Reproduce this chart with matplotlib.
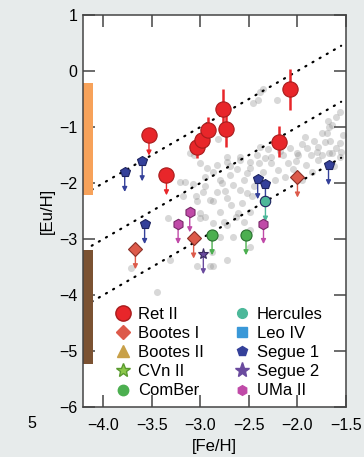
import numpy as np
import matplotlib.pyplot as plt
from matplotlib.lines import Line2D

plt.rcParams['font.family'] = ['Liberation Sans', 'DejaVu Sans']

# halo field stars
halo_feh = [-2.41, -2.36, -2.21, -1.60, -1.67, -3.07, -2.59, -2.39, -2.08, -1.90,
            -1.80, -1.64, -1.56, -1.70, -1.56, -1.64, -1.69, -1.75, -1.72, -1.92,
            -1.79, -1.55, -2.00, -2.73, -2.49, -2.42, -2.87, -2.69, -2.52, -3.16,
            -2.78, -2.66, -2.59, -2.52, -2.47, -2.90, -2.73, -2.57, -3.05, -3.11,
            -2.80, -2.61, -2.49, -2.76, -2.87, -3.00, -3.18, -2.27, -2.10, -1.99,
            -1.91, -1.86, -1.79, -1.68, -1.56, -2.20, -2.13, -2.23, -3.21, -2.97,
            -3.04, -3.33, -3.00, -2.73, -2.88, -2.73, -2.87, -3.04, -2.49, -2.49,
            -3.72, -2.66, -2.80, -3.45, -2.93, -3.00, -3.31, -2.83, -2.80, -2.87,
            -2.63, -2.90, -3.11, -2.82, -2.73, -2.59, -2.49, -2.83, -2.39, -2.46,
            -2.35, -2.27, -2.30, -2.15, -2.05, -1.85, -1.95, -1.53, -1.62,
            -2.95, -2.70, -2.62, -2.55, -2.45, -2.40, -2.33, -2.18, -2.02, -1.95,
            -1.83, -1.75, -1.66, -1.60, -2.68, -2.95, -3.08, -2.75, -2.55, -2.95]
halo_euh = [-0.52, -0.32, -0.52, -0.82, -1.00, -1.50, -1.53, -1.36, -1.38, -1.38,
            -1.45, -1.47, -1.29, -1.11, -0.73, -0.96, -0.90, -1.11, -1.26, -1.17,
            -1.35, -1.44, -1.47, -1.62, -1.62, -1.50, -1.80, -1.86, -1.83, -1.98,
            -2.00, -2.04, -2.13, -2.18, -2.24, -2.30, -2.27, -2.36, -2.24, -2.48,
            -2.51, -2.54, -2.51, -2.69, -2.72, -1.65, -2.24, -1.65, -1.65, -1.50,
            -1.68, -1.50, -1.59, -1.47, -1.53, -1.77, -1.89, -1.95, -1.98, -2.16,
            -2.33, -2.63, -2.54, -2.75, -3.23, -3.38, -3.49, -3.49, -3.14, -2.84,
            -3.52, -2.96, -2.96, -3.94, -1.74, -2.63, -3.38, -2.16, -1.95, -2.33,
            -2.60, -3.49, -1.47, -1.21, -1.53, -1.59, -1.74, -1.68, -0.37, -0.58,
            -1.80, -1.53, -1.40, -1.50, -1.75, -1.80, -1.95, -1.15, -1.70,
            -1.90, -1.70, -1.75, -1.95, -2.05, -1.65, -1.55, -1.42, -1.60, -1.30,
            -1.25, -1.50, -1.25, -1.38, -2.40, -2.05, -2.02, -2.15, -2.70, -2.60]

# Ret II measurements and upper limits
ret_feh = [-3.04, -2.98, -2.92, -2.77, -2.74, -2.08, -2.19]
ret_euh = [-1.35, -1.24, -1.05, -0.67, -1.04, -0.33, -1.26]
ret_err = [0.20, 0.20, 0.22, 0.35, 0.32, 0.37, 0.28]
ret_lim_feh = [-3.53, -3.35]
ret_lim_euh = [-1.15, -1.86]

# upper limits in the other dwarfs
boo1_feh = [-3.67, -3.07, -2.00]
boo1_euh = [-3.18, -2.99, -1.90]
seg1_feh = [-3.78, -3.60, -3.575, -2.41, -2.33, -1.68]
seg1_euh = [-1.80, -1.61, -2.73, -1.93, -2.02, -1.68]
uma2_feh = [-3.23, -3.11, -2.35]
uma2_euh = [-2.73, -2.52, -2.73]
comber_feh = [-2.88, -2.53]
comber_euh = [-2.93, -2.93]
her_feh = [-2.33]
her_euh = [-2.33]
seg2_feh = [-2.97]
seg2_euh = [-3.27]

# [Eu/Fe] reference lines
eufe_levels = [2, 1, 0]

# ranges shown as bars on the left edge
bar_lo = [-2.21, -5.23]
bar_hi = [-0.21, -3.20]
bar_colors = ['#f7a25a', '#7b5232']

fig = plt.figure(figsize=(3.64, 4.57), dpi=100, facecolor='#e7ebeb')
ax = fig.add_axes([0.228, 0.1094, 0.7225, 0.8578])
ax.set_facecolor('white')

ax.scatter(halo_feh, halo_euh, s=26, color='0.5', alpha=0.3, lw=0, zorder=1)

xl = np.array([-4.12, -1.55])
for c in eufe_levels:
    ax.plot(xl, xl + c, color='black', lw=1.6, linestyle=(0, (0.5, 3.2)),
            dash_capstyle='round', zorder=2)

for lo, hi, col in zip(bar_lo, bar_hi, bar_colors):
    ax.bar(-4.21, hi - lo, bottom=lo, width=0.1, align='edge', color=col, zorder=2)


def limits(xs, ys, marker, fc, ec, ms, length=0.36):
    for x, y in zip(xs, ys):
        ax.annotate('', xy=(x, y - length), xytext=(x, y),
                    arrowprops=dict(arrowstyle='-|>', color=fc, lw=1.0,
                                    mutation_scale=7, shrinkA=0, shrinkB=0),
                    zorder=3)
    ax.plot(xs, ys, marker=marker, ls='none', mfc=fc, mec=ec, ms=ms, mew=0.8, zorder=5)


ax.errorbar(ret_feh, ret_euh, yerr=ret_err, fmt='o', ms=11, mfc='#e8262a',
            mec='#a81c1c', mew=0.8, ecolor='#e8262a', elinewidth=1.8, capsize=0, zorder=5)
limits(ret_lim_feh, ret_lim_euh, 'o', '#e8262a', '#a81c1c', 11)
limits(boo1_feh, boo1_euh, 'D', '#dd5a4a', '#8a3028', 7.5)
limits(seg1_feh, seg1_euh, 'p', '#34409a', '#1e2460', 7.5)
limits(uma2_feh, uma2_euh, 'h', '#c04aa8', '#7a2a6a', 7.5)
limits(comber_feh, comber_euh, 'o', '#4caf50', '#2a7030', 8)
limits(her_feh, her_euh, 'o', '#4cb89a', '#1e2460', 7.5)
limits(seg2_feh, seg2_euh, '*', '#6a4a9e', '#3a2a60', 8)

handles = [
    Line2D([], [], ls='none', marker='o', ms=11, mfc='#e8262a', mec='#a81c1c', label='Ret II'),
    Line2D([], [], ls='none', marker='D', ms=7.5, mfc='#dd5a4a', mec='#dd5a4a', label='Bootes I'),
    Line2D([], [], ls='none', marker='^', ms=8, mfc='#c8a048', mec='#c8a048', label='Bootes II'),
    Line2D([], [], ls='none', marker='*', ms=10, mfc='#8cc84a', mec='#5a9a30', label='CVn II'),
    Line2D([], [], ls='none', marker='o', ms=7.5, mfc='#4caf50', mec='#4caf50', label='ComBer'),
    Line2D([], [], ls='none', marker='o', ms=7, mfc='#4cb89a', mec='#4cb89a', label='Hercules'),
    Line2D([], [], ls='none', marker='s', ms=7, mfc='#3a98d8', mec='#3a98d8', label='Leo IV'),
    Line2D([], [], ls='none', marker='p', ms=7, mfc='#34409a', mec='#34409a', label='Segue 1'),
    Line2D([], [], ls='none', marker='*', ms=11, mfc='#6a4a9e', mec='#6a4a9e', label='Segue 2'),
    Line2D([], [], ls='none', marker='h', ms=7, mfc='#c04aa8', mec='#c04aa8', label='UMa II'),
]
ax.legend(handles=handles, ncol=2, loc='lower left', bbox_to_anchor=(0.095, 0.005),
          frameon=False, fontsize=12, handlelength=1.0, handletextpad=0.4,
          columnspacing=1.78, labelspacing=0.25, borderaxespad=0)

ax.set_xlim(-4.21, -1.5)
ax.set_ylim(-6, 1)
ax.set_xticks([-4.0, -3.5, -3.0, -2.5, -2.0, -1.5])
ax.set_xticklabels(['\u22124.0', '\u22123.5', '\u22123.0', '\u22122.5', '\u22122.0', '\u22121.5'])
ax.set_yticks(range(-6, 2))
ax.set_yticklabels(['\u2212%d' % -v if v < 0 else str(v) for v in range(-6, 2)])
ax.tick_params(direction='in', length=8.5, width=1.1, color='#444444',
               top=True, right=True, labelsize=11.5)
ax.tick_params(axis='x', pad=8)
ax.tick_params(axis='y', pad=4)
for s in ax.spines.values():
    s.set_color('#444444')
    s.set_linewidth(1.1)

ax.set_xlabel('[Fe/H]', fontsize=12, labelpad=4)
ax.set_ylabel('[Eu/H]', fontsize=12, labelpad=3)
fig.text(32 / 364, 1 - 424 / 457, '5', fontsize=11.5, ha='center', va='center')

fig.savefig('out.png', dpi=100, facecolor=fig.get_facecolor())
